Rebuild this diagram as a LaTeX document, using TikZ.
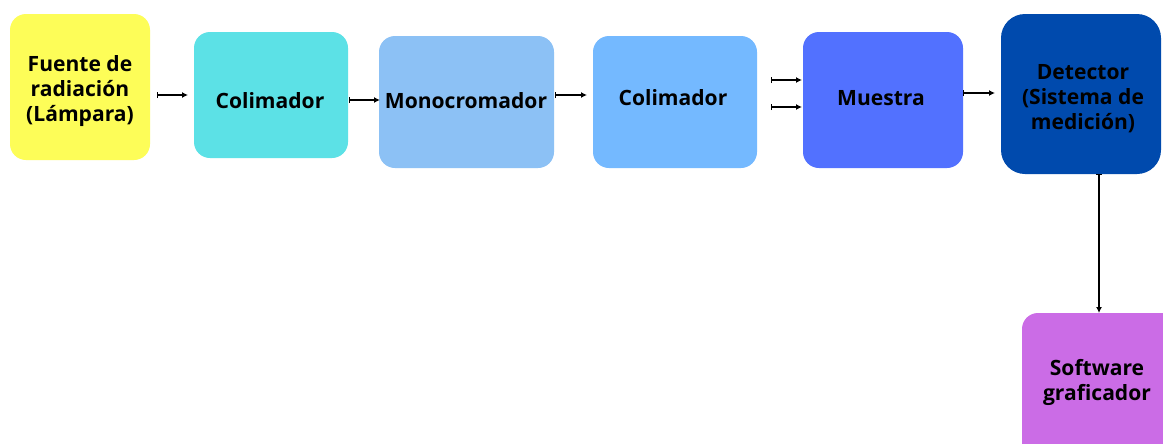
\documentclass[tikz,border=0pt]{standalone}
\usepackage{fontspec}
\setmainfont{Open Sans}
\usetikzlibrary{arrows.meta}
\definecolor{cyellow}{HTML}{FDFD58}
\definecolor{ccyan}{HTML}{5CE1E6}
\definecolor{cmono}{HTML}{8CC1F5}
\definecolor{ccol}{HTML}{74B9FF}
\definecolor{cmues}{HTML}{5271FF}
\definecolor{cdet}{HTML}{004AAD}
\definecolor{csoft}{HTML}{CB6CE6}
\tikzset{
  blockbox/.style={rounded corners=12, inner sep=0pt, align=center,
    font=\bfseries\fontsize{15.8}{18.8}\selectfont, text=black},
  link/.style={{Bar[width=4.5pt]}-{Latex[length=4.5pt,width=4.5pt]}, line width=1pt, black}
}
\begin{document}
\begin{tikzpicture}[x=0.75pt,y=-0.75pt]
\useasboundingbox (0,0) rectangle (1163,443);
\clip (0,0) rectangle (1163,443);
\fill[white] (0,0) rectangle (1163,443);
% blocks
\fill[cyellow, rounded corners=12] (10,14) rectangle (150,160);
\node[blockbox] (src) at (80,91) {Fuente de\\radiación\\(Lámpara)};
\fill[ccyan, rounded corners=12] (194,32) rectangle (348,158);
\node[blockbox] (col1) at (270,101) {Colimador};
\fill[cmono, rounded corners=12] (379,36) rectangle (554,168);
\node[blockbox] (mono) at (466,101) {Monocromador};
\fill[ccol, rounded corners=12] (593,36) rectangle (757,168);
\node[blockbox] (col2) at (673,98) {Colimador};
\fill[cmues, rounded corners=12] (803,32) rectangle (963,168);
\node[blockbox] (mues) at (881,98) {Muestra};
\fill[cdet, rounded corners=18] (1001,14) rectangle (1161,174);
\node[blockbox] (det) at (1083,99) {Detector\\(Sistema de\\medición)};
\fill[csoft, rounded corners=12] (1022,313) rectangle (1180,460);
\node[blockbox] (soft) at (1097,382) {Software\\graficador};
% connector end points
\coordinate (a1) at (157,95); \coordinate (b1) at (188,95);
\coordinate (a2) at (349,100); \coordinate (b2) at (380,100);
\coordinate (a3) at (555,95); \coordinate (b3) at (587,95);
\coordinate (a4) at (771,80); \coordinate (b4) at (802,80);
\coordinate (a5) at (771,107); \coordinate (b5) at (802,107);
\coordinate (a6) at (963,93); \coordinate (b6) at (995,93);
\coordinate (a7) at (1099,174); \coordinate (b7) at (1099,313);
\draw[link] (a1) -- (b1);
\draw[link] (a2) -- (b2);
\draw[link] (a3) -- (b3);
\draw[link] (a4) -- (b4);
\draw[link] (a5) -- (b5);
\draw[link] (a6) -- (b6);
\draw[link] (a7) -- (b7);
\end{tikzpicture}
\end{document}
